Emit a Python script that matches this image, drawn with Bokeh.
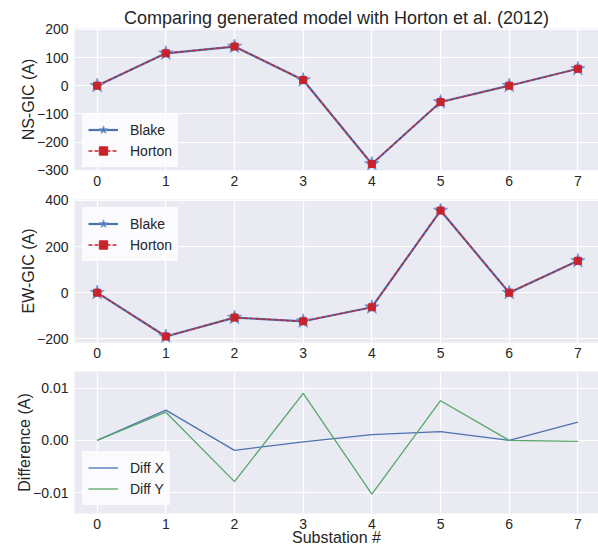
from bokeh.plotting import figure
from bokeh.layouts import column
from bokeh.models import FixedTicker, CustomJSTickFormatter, Range1d
from bokeh.embed import file_html
from bokeh.resources import INLINE

# ---- data ----
substations = [0, 1, 2, 3, 4, 5, 6, 7]
ns_blake = [0, 115, 139, 20, -278, -58, 0, 60]
ns_horton = [0, 115, 139, 20, -278, -58, 0, 60]
ew_blake = [0, -190, -108, -124, -63, 356, 0, 138]
ew_horton = [0, -190, -108, -124, -63, 356, 0, 138]
diff_x = [0.0, 0.0058, -0.0019, -0.0003, 0.0011, 0.0017, 0.0, 0.0035]
diff_y = [0.0, 0.0054, -0.0079, 0.0090, -0.0103, 0.0076, 0.0, -0.0002]
x_ticks = [0, 1, 2, 3, 4, 5, 6, 7]
ns_ticks = [-300, -200, -100, 0, 100, 200]
ew_ticks = [-200, 0, 200, 400]
diff_ticks = [-0.01, 0.0, 0.01]

FONT = "Liberation Sans"
BG = "#EAEAF2"
TXT = "#262626"
BLUE = "#4C72B0"
RED = "#C8232C"
GREEN = "#55A868"


def style(p, yticks, decimals):
    p.background_fill_color = BG
    p.border_fill_color = "white"
    p.outline_line_color = None
    p.xgrid.grid_line_color = "white"
    p.ygrid.grid_line_color = "white"
    p.xgrid.grid_line_width = 1.2
    p.ygrid.grid_line_width = 1.2
    p.xaxis.ticker = FixedTicker(ticks=x_ticks)
    p.yaxis.ticker = FixedTicker(ticks=yticks)
    p.yaxis.formatter = CustomJSTickFormatter(
        code="return tick.toFixed(%d).replace('-', '\\u2212');" % decimals)
    for ax in p.xaxis + p.yaxis:
        ax.axis_line_color = None
        ax.major_tick_line_color = None
        ax.minor_tick_line_color = None
        ax.major_tick_out = 0
        ax.major_tick_in = 0
        ax.major_label_text_font = FONT
        ax.major_label_text_font_size = "14px"
        ax.major_label_text_color = TXT
        ax.axis_label_text_font = FONT
        ax.axis_label_text_font_size = "16px"
        ax.axis_label_text_color = TXT
        ax.axis_label_text_font_style = "normal"
    p.xaxis.major_label_standoff = 5
    p.yaxis.major_label_standoff = 6
    p.yaxis.axis_label_standoff = -3


def style_legend(p, location, margin):
    lg = p.legend[0]
    lg.location = location
    lg.margin = margin
    lg.padding = 6
    lg.spacing = 0
    lg.label_height = 21
    lg.glyph_height = 21
    lg.glyph_width = 30
    lg.label_standoff = 12
    lg.label_text_font = FONT
    lg.label_text_font_size = "14px"
    lg.label_text_color = TXT
    lg.background_fill_color = "white"
    lg.background_fill_alpha = 0.8
    lg.border_line_alpha = 0


W = 598
common = dict(width=W, output_backend="svg", toolbar_location=None,
              min_border_left=74, min_border_right=0)

# ---- panel 1 ----
p1 = figure(height=192, x_range=Range1d(-0.33, 7.30), y_range=Range1d(-301, 203),
            title="Comparing generated model with Horton et al. (2012)",
            min_border_top=28, min_border_bottom=22, **common)
p1.title.align = "center"
p1.title.text_font = FONT
p1.title.text_font_size = "18px"
p1.title.text_font_style = "normal"
p1.title.text_color = TXT
p1.title.standoff = 2
p1.line(substations, ns_blake, line_color=BLUE, line_width=2.2, legend_label="Blake")
p1.scatter(substations, ns_blake, marker="star", size=15, fill_color=BLUE,
           line_color="#7FA0D6", line_width=1, legend_label="Blake")
p1.line(substations, ns_horton, line_color=RED, line_width=1.3, line_dash="4 2",
        legend_label="Horton")
p1.scatter(substations, ns_horton, marker="square", size=7, fill_color=RED,
           line_color=RED, legend_label="Horton")
p1.yaxis.axis_label = "NS-GIC (A)"
style(p1, ns_ticks, 0)
style_legend(p1, (8, 3), 0)

# ---- panel 2 ----
p2 = figure(height=172, x_range=p1.x_range, y_range=Range1d(-216, 404),
            min_border_top=7, min_border_bottom=22, **common)
p2.line(substations, ew_blake, line_color=BLUE, line_width=2.2, legend_label="Blake")
p2.scatter(substations, ew_blake, marker="star", size=15, fill_color=BLUE,
           line_color="#7FA0D6", line_width=1, legend_label="Blake")
p2.line(substations, ew_horton, line_color=RED, line_width=1.3, line_dash="4 2",
        legend_label="Horton")
p2.scatter(substations, ew_horton, marker="square", size=7, fill_color=RED,
           line_color=RED, legend_label="Horton")
p2.yaxis.axis_label = "EW-GIC (A)"
style(p2, ew_ticks, 0)
style_legend(p2, "top_left", 8)

# ---- panel 3 ----
p3 = figure(height=184, x_range=p1.x_range, y_range=Range1d(-0.0140, 0.0132),
            min_border_top=7, min_border_bottom=35, **common)
p3.line(substations, diff_x, line_color=BLUE, line_width=1.3, legend_label="Diff X")
p3.line(substations, diff_y, line_color=GREEN, line_width=1.3, legend_label="Diff Y")
p3.yaxis.axis_label = "Difference (A)"
p3.xaxis.axis_label = "Substation #"
style(p3, diff_ticks, 2)
p3.xaxis.axis_label_standoff = -3
style_legend(p3, "bottom_left", 8)

layout = column(p1, p2, p3, spacing=0)
open("out.html", "w").write(file_html(layout, INLINE))
